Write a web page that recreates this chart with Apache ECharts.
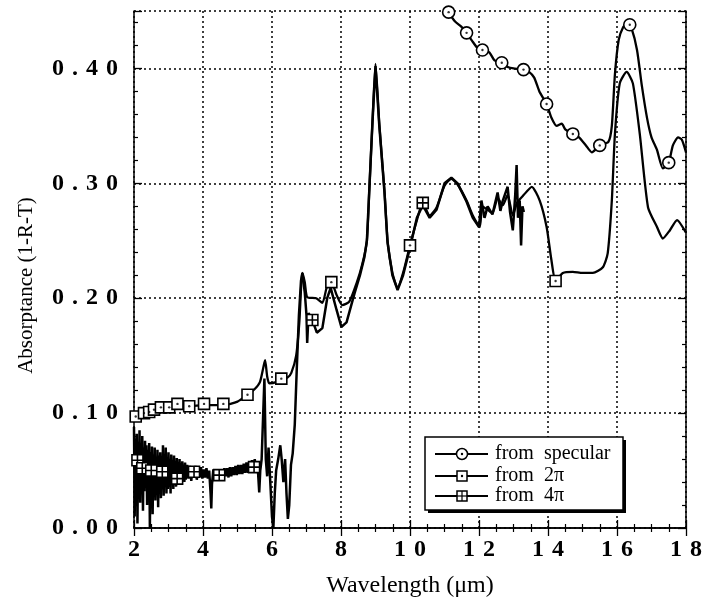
<!DOCTYPE html>
<html><head><meta charset="utf-8">
<script src="https://cdn.jsdelivr.net/npm/echarts@6/dist/echarts.min.js"></script>
<style>html,body{margin:0;padding:0;background:#fff}#c{width:710px;height:607px}</style>
</head><body><div id="c"></div>
<script>
// ---- data ----
const xTicks = [2,4,6,8,10,12,14,16,18];
const yTicks = [0.00,0.10,0.20,0.30,0.40];
const seriesNames = ['from  specular','from  2\u03c0','from  4\u03c0'];

const specX = [11.0,11.12,11.3,11.5,11.64,11.8,11.95,12.1,12.3,12.45,12.66,12.85,13.0,13.29,13.45,13.6,13.75,13.96,14.1,14.25,14.4,14.5,14.72,14.9,15.1,15.27,15.5,15.75,15.85,15.94,16.05,16.18,16.3,16.42,16.58,16.72,16.87,17.0,17.16,17.33,17.5,17.62,17.77,17.88,18.0];
const specY = [0.456,0.449,0.441,0.436,0.431,0.424,0.418,0.416,0.414,0.407,0.405,0.401,0.400,0.399,0.397,0.392,0.380,0.369,0.357,0.350,0.352,0.347,0.343,0.340,0.333,0.327,0.333,0.336,0.350,0.395,0.425,0.436,0.440,0.435,0.416,0.385,0.357,0.340,0.329,0.313,0.318,0.333,0.340,0.338,0.327];
const specMarkX = [11.12,11.64,12.10,12.66,13.29,13.96,14.72,15.50,16.37,17.50];
const specMarkY = [0.449,0.431,0.416,0.405,0.399,0.369,0.343,0.333,0.438,0.318];

const twoPiX = [2.0,2.06,2.29,2.44,2.58,2.78,3.02,3.26,3.6,4.03,4.59,5.0,5.29,5.5,5.65,5.75,5.80,5.86,5.92,6.12,6.27,6.45,6.56,6.70,6.79,6.88,6.95,7.02,7.28,7.46,7.6,7.72,7.87,8.04,8.24,8.45,8.62,8.75,8.82,8.91,9.0,9.11,9.26,9.35,9.49,9.64,9.8,10.0,10.2,10.37,10.57,10.77,11.0,11.2,11.38,11.64,11.82,12.02,12.1,12.25,12.39,12.54,12.69,12.83,12.98,13.1,13.3,13.53,13.76,13.96,14.1,14.22,14.43,14.72,15.0,15.3,15.59,15.73,15.85,15.94,16.08,16.28,16.46,16.66,16.9,17.16,17.33,17.53,17.74,18.0];
const twoPiY = [0.096,0.097,0.100,0.101,0.103,0.105,0.106,0.107,0.106,0.107,0.107,0.110,0.116,0.121,0.127,0.140,0.146,0.132,0.126,0.127,0.130,0.131,0.135,0.150,0.178,0.222,0.214,0.201,0.200,0.196,0.211,0.214,0.203,0.194,0.197,0.213,0.230,0.250,0.294,0.352,0.404,0.352,0.294,0.250,0.222,0.209,0.222,0.246,0.268,0.283,0.272,0.279,0.298,0.304,0.299,0.285,0.272,0.262,0.280,0.277,0.274,0.287,0.281,0.290,0.272,0.283,0.290,0.297,0.285,0.262,0.233,0.215,0.222,0.223,0.222,0.222,0.227,0.239,0.285,0.343,0.387,0.397,0.387,0.343,0.279,0.262,0.252,0.259,0.268,0.257];
const twoPiMarkX = [2.05,2.29,2.44,2.58,2.78,3.02,3.26,3.6,4.03,4.59,5.29,6.27,7.72,10.0,14.22];
const twoPiMarkY = [0.097,0.100,0.101,0.103,0.105,0.105,0.108,0.106,0.108,0.108,0.116,0.130,0.214,0.246,0.215];

const fourPiX = [2.00,2.02,2.04,2.06,2.08,2.10,2.12,2.14,2.16,2.18,2.20,2.22,2.24,2.26,2.28,2.30,2.32,2.34,2.36,2.38,2.40,2.42,2.44,2.46,2.48,2.50,2.52,2.54,2.56,2.58,2.60,2.62,2.64,2.66,2.68,2.70,2.72,2.74,2.76,2.78,2.80,2.82,2.84,2.86,2.88,2.90,2.92,2.94,2.96,2.98,3.00,3.02,3.04,3.06,3.08,3.10,3.12,3.14,3.16,3.18,3.20,3.22,3.24,3.26,3.28,3.30,3.32,3.34,3.36,3.38,3.40,3.42,3.44,3.46,3.48,3.50,
  3.54,3.58,3.62,3.66,3.70,3.74,3.78,3.82,3.86,3.90,3.94,3.98,4.02,4.06,4.10,4.14,4.18,4.22,4.24,4.26,4.30,4.34,4.38,4.42,4.46,4.50,4.54,4.58,4.62,4.66,4.70,4.74,4.78,4.82,4.86,4.90,4.94,4.98,5.02,5.06,5.10,5.14,5.18,5.22,5.26,5.30,5.34,5.38,5.42,5.46,5.50,5.54,5.58,
  5.60,5.63,5.66,5.70,5.74,5.78,5.82,5.86,5.90,5.95,6.00,6.04,6.08,6.12,6.18,6.24,6.28,6.33,6.38,6.42,6.46,6.50,6.55,6.60,6.66,6.72,6.78,6.84,6.88,6.95,7.00,7.02,7.06,7.17,7.30,7.46,7.60,7.70,7.87,8.01,8.16,8.39,8.55,8.68,8.75,8.82,8.91,9.0,9.11,9.26,9.35,9.49,9.64,9.8,10.0,10.2,10.37,10.57,10.77,11.0,11.2,11.38,11.64,11.82,12.0,12.07,12.16,12.25,12.39,12.54,12.62,12.69,12.83,12.9,12.98,13.05,13.09,13.13,13.18,13.22,13.26,13.3];
const fourPiY = [0.088,0.010,0.078,0.030,0.082,0.004,0.075,0.035,0.085,0.022,0.074,0.040,0.080,0.015,0.070,0.032,0.076,0.038,0.072,0.020,0.068,0.030,0.074,0.000,0.066,0.028,0.071,0.012,0.064,0.034,0.070,0.024,0.062,0.030,0.068,0.018,0.063,0.032,0.066,0.026,0.060,0.035,0.072,0.028,0.062,0.036,0.070,0.030,0.061,0.034,0.066,0.036,0.060,0.030,0.064,0.038,0.059,0.034,0.063,0.039,0.058,0.036,0.061,0.040,0.057,0.038,0.060,0.041,0.056,0.039,0.058,0.042,0.055,0.040,0.057,0.042,
  0.055,0.043,0.054,0.041,0.053,0.044,0.054,0.042,0.052,0.044,0.053,0.043,0.051,0.044,0.052,0.043,0.050,0.030,0.017,0.038,0.051,0.043,0.051,0.044,0.050,0.043,0.051,0.044,0.052,0.045,0.052,0.044,0.053,0.045,0.053,0.046,0.054,0.046,0.055,0.047,0.055,0.047,0.056,0.048,0.057,0.048,0.058,0.049,0.059,0.049,0.060,0.048,0.057,
  0.046,0.031,0.050,0.060,0.095,0.130,0.060,0.045,0.070,0.040,0.010,0.000,0.030,0.050,0.060,0.072,0.060,0.040,0.060,0.030,0.008,0.020,0.055,0.065,0.090,0.140,0.185,0.215,0.222,0.205,0.185,0.161,0.187,0.181,0.170,0.174,0.200,0.209,0.190,0.175,0.179,0.204,0.220,0.236,0.250,0.294,0.352,0.402,0.350,0.292,0.248,0.220,0.207,0.220,0.244,0.270,0.281,0.270,0.277,0.300,0.305,0.300,0.284,0.270,0.262,0.285,0.270,0.280,0.273,0.292,0.276,0.285,0.297,0.275,0.259,0.290,0.316,0.270,0.285,0.246,0.280,0.275];
const fourPiMarkX = [2.1,2.24,2.5,2.82,3.25,3.74,4.47,5.48,7.17,10.37];
const fourPiMarkY = [0.059,0.052,0.050,0.049,0.043,0.049,0.046,0.053,0.181,0.283];

// ---- helpers ----
const zip = (xs, ys) => xs.map((x, i) => [x, ys[i]]);
const SERIF = 'Liberation Serif, Times New Roman, serif';
const crossSquare = 'path://M0,0 L10,0 L10,10 L0,10 Z M5,0 L5,10 M0,5 L10,5';
const spaced = s => s.split('').map(c => '{d|' + c + '}').join('');
const tickRich = {d: {color: '#000', fontFamily: SERIF, fontWeight: 'bold', fontSize: 24, padding: [0, 4, 0, 4]}};

const chart = echarts.init(document.getElementById('c'), null, {renderer: 'canvas'});

function lineSeries(name, xs, ys) {
  return {name, type: 'line', data: zip(xs, ys), showSymbol: false, symbol: 'none',
    lineStyle: {color: '#000', width: 2.3}, itemStyle: {color: '#000'}, smooth: 0.2, z: 3, animation: false, silent: true};
}
function markerSeries(xs, ys, symbol, size) {
  return {type: 'scatter', data: zip(xs, ys), symbol, symbolSize: size, clip: false,
    itemStyle: {color: '#fff', borderColor: '#000', borderWidth: 1.6, opacity: 1}, z: 5, animation: false, silent: true};
}
function dotSeries(xs, ys) {
  return {type: 'scatter', data: zip(xs, ys), symbol: 'circle', symbolSize: 2.4, clip: false,
    itemStyle: {color: '#000'}, z: 6, animation: false, silent: true};
}

const axisLineStyle = {lineStyle: {color: '#000', width: 1.5}};
const tickStyle = {show: true, inside: true, length: 8, lineStyle: {color: '#000', width: 1.3}};
const minorStyle = {show: true, splitNumber: 4, length: 4, lineStyle: {color: '#000', width: 1.2}};
const minorStyleY = {show: true, splitNumber: 5, length: 4, lineStyle: {color: '#000', width: 1.2}};
const gridLine = {show: true, lineStyle: {color: '#000', width: 1.5, type: [2, 3]}};

const option = {
  backgroundColor: '#fff',
  animation: false,
  grid: {left: 134, right: 24, top: 11, bottom: 79, containLabel: false},
  xAxis: [
    {type: 'value', min: 2, max: 18, interval: 2, position: 'bottom',
     axisLine: axisLineStyle, axisTick: tickStyle, minorTick: minorStyle, splitLine: gridLine,
     axisLabel: {margin: 10, rich: tickRich,
                 formatter: v => xTicks.includes(v) ? spaced(String(v)) : ''},
     name: 'Wavelength (\u03bcm)', nameLocation: 'middle', nameGap: 46,
     nameTextStyle: {color: '#000', fontFamily: SERIF, fontSize: 24}},
    {type: 'value', min: 2, max: 18, interval: 2, position: 'top',
     axisLine: axisLineStyle, axisTick: tickStyle, minorTick: minorStyle, splitLine: {show: false},
     axisLabel: {show: false}}
  ],
  yAxis: [
    {type: 'value', min: 0, max: 0.45, interval: 0.1, position: 'left',
     axisLine: axisLineStyle, axisTick: tickStyle, minorTick: minorStyleY, splitLine: gridLine,
     axisLabel: {margin: 12, rich: tickRich,
                 formatter: v => { const t = yTicks.find(k => Math.abs(k - v) < 1e-6); return t === undefined ? '' : spaced(t.toFixed(2)); }},
     name: 'Absorptance (1-R-T)', nameLocation: 'middle', nameGap: 97, nameRotate: 90,
     nameTextStyle: {color: '#000', fontFamily: SERIF, fontSize: 21, padding: [0, 32, 0, 0]}},
    {type: 'value', min: 0, max: 0.45, interval: 0.1, position: 'right',
     axisLine: axisLineStyle, axisTick: tickStyle, minorTick: minorStyleY, splitLine: {show: false},
     axisLabel: {show: false}}
  ],
  series: [
    lineSeries(seriesNames[0], specX, specY),
    lineSeries(seriesNames[1], twoPiX, twoPiY),
    Object.assign(lineSeries(seriesNames[2], fourPiX, fourPiY), {smooth: false, lineStyle: {color: '#000', width: 2.5}}),
    markerSeries(specMarkX, specMarkY, 'circle', 12),
    dotSeries(specMarkX, specMarkY),
    markerSeries(twoPiMarkX, twoPiMarkY, 'rect', 11),
    dotSeries(twoPiMarkX, twoPiMarkY),
    markerSeries(fourPiMarkX, fourPiMarkY, crossSquare, 11)
  ],
  graphic: []
};

// legend drawn as a boxed key
const lg = {x: 425, y: 437, w: 198, h: 73};
const rowsY = [454, 476, 496];
const legendEls = [
  {type: 'rect', shape: {x: lg.x + 3, y: lg.y + 3, width: lg.w, height: lg.h}, style: {fill: '#000'}, z: 100},
  {type: 'rect', shape: {x: lg.x, y: lg.y, width: lg.w, height: lg.h}, style: {fill: '#fff', stroke: '#000', lineWidth: 1.5}, z: 101}
];
rowsY.forEach((yy, i) => {
  legendEls.push({type: 'line', shape: {x1: 435, y1: yy, x2: 488, y2: yy}, style: {stroke: '#000', lineWidth: 1.8}, z: 102});
  if (i === 0) {
    legendEls.push({type: 'circle', shape: {cx: 462, cy: yy, r: 5.5}, style: {fill: '#fff', stroke: '#000', lineWidth: 1.5}, z: 103});
    legendEls.push({type: 'circle', shape: {cx: 462, cy: yy, r: 1.2}, style: {fill: '#000'}, z: 104});
  } else if (i === 1) {
    legendEls.push({type: 'rect', shape: {x: 457, y: yy - 5, width: 10, height: 10}, style: {fill: '#fff', stroke: '#000', lineWidth: 1.5}, z: 103});
    legendEls.push({type: 'circle', shape: {cx: 462, cy: yy, r: 1.2}, style: {fill: '#000'}, z: 104});
  } else {
    legendEls.push({type: 'rect', shape: {x: 457, y: yy - 5, width: 10, height: 10}, style: {fill: '#fff', stroke: '#000', lineWidth: 1.5}, z: 103});
    legendEls.push({type: 'line', shape: {x1: 462, y1: yy - 5, x2: 462, y2: yy + 5}, style: {stroke: '#000', lineWidth: 1.2}, z: 104});
    legendEls.push({type: 'line', shape: {x1: 457, y1: yy, x2: 467, y2: yy}, style: {stroke: '#000', lineWidth: 1.2}, z: 104});
  }
  legendEls.push({type: 'text', x: 495, y: yy, style: {text: seriesNames[i], fill: '#000', font: '20px ' + SERIF, verticalAlign: 'middle'}, z: 103});
});
option.graphic = legendEls;

chart.setOption(option);
</script>
</body></html>
